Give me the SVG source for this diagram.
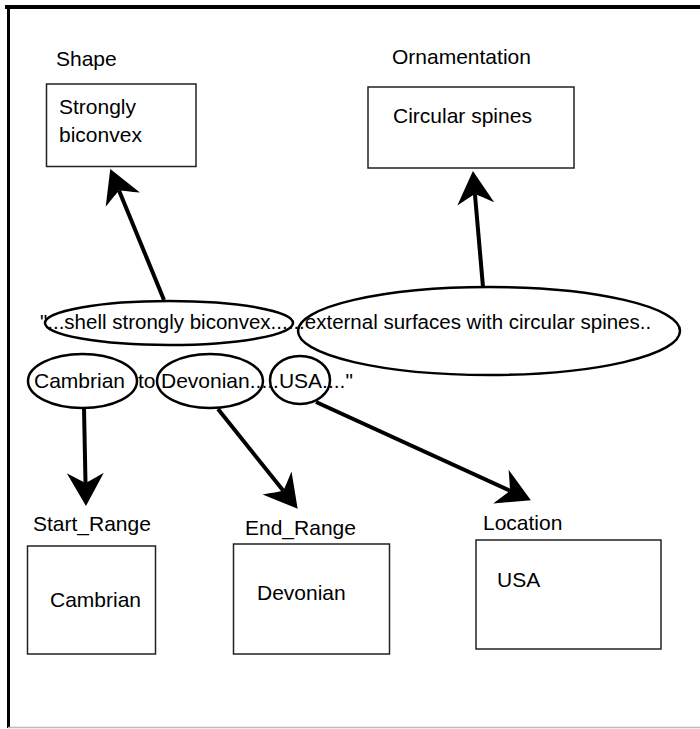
<svg xmlns="http://www.w3.org/2000/svg" width="700" height="729" viewBox="0 0 700 729">
  <style>
    text { font-family: "Liberation Sans", Arial, Helvetica, sans-serif; font-size: 21px; fill: #000; }
    .quote { font-size: 20.5px; }
    .box { fill: #fff; stroke: #222; stroke-width: 1.5; }
    .oval { fill: none; stroke: #000; stroke-width: 2.5; }
    .conn { fill: none; stroke: #000; stroke-width: 4; marker-end: url(#head); }
  </style>
  <defs>
    <!-- notched arrowhead; reference point sits at the notch -->
    <marker id="head" markerUnits="userSpaceOnUse" markerWidth="44" markerHeight="44" viewBox="-14 -22 40 44" refX="0" refY="0" orient="auto">
      <path d="M23,0 L-10,-18.5 Q-3,-6 0,0 Q-3,6 -10,18.5 Z" fill="#000"/>
    </marker>
  </defs>

  <rect width="700" height="729" fill="#fff"/>

  <!-- frame -->
  <g id="frame">
    <line x1="5" y1="7" x2="700" y2="7" stroke="#000" stroke-width="4"/>
    <line x1="8.5" y1="5" x2="8.5" y2="728" stroke="#000" stroke-width="3"/>
    <line x1="8" y1="727.5" x2="700" y2="727.5" stroke="#bbb" stroke-width="1.5"/>
  </g>

  <!-- attribute boxes -->
  <g id="shape">
    <text x="56" y="66">Shape</text>
    <rect class="box" x="46.5" y="84" width="149.5" height="82.5"/>
    <text x="59" y="114">Strongly</text>
    <text x="59" y="142">biconvex</text>
  </g>
  <g id="ornamentation">
    <text x="392" y="64">Ornamentation</text>
    <rect class="box" x="368" y="87" width="206" height="81"/>
    <text x="393" y="123">Circular spines</text>
  </g>
  <g id="start-range">
    <text x="33" y="531">Start_Range</text>
    <rect class="box" x="27.5" y="546" width="128" height="108"/>
    <text x="50" y="607">Cambrian</text>
  </g>
  <g id="end-range">
    <text x="245" y="535">End_Range</text>
    <rect class="box" x="233.5" y="544" width="156" height="110"/>
    <text x="257" y="600">Devonian</text>
  </g>
  <g id="location">
    <text x="483" y="530">Location</text>
    <rect class="box" x="476" y="540" width="185" height="109"/>
    <text x="497" y="587">USA</text>
  </g>

  <!-- source sentence with highlighted phrases -->
  <g id="sentence">
    <text class="quote" x="40" y="329">"...shell strongly biconvex......external surfaces with circular spines..</text>
    <text x="34" y="388">Cambrian</text>
    <text x="138" y="388">to</text>
    <text x="161" y="388">Devonian.....USA...."</text>
  </g>
  <g id="phrase-shell"><ellipse class="oval" cx="169" cy="323" rx="124" ry="22"/></g>
  <g id="phrase-spines"><ellipse class="oval" cx="489" cy="331" rx="191" ry="44"/></g>
  <g id="phrase-cambrian"><ellipse class="oval" cx="82.5" cy="381" rx="54.5" ry="27"/></g>
  <g id="phrase-devonian"><ellipse class="oval" cx="210" cy="381" rx="53" ry="27"/></g>
  <g id="phrase-usa"><ellipse class="oval" cx="300" cy="380" rx="30" ry="24"/></g>

  <!-- connectors -->
  <g id="connectors">
    <line class="conn" x1="164" y1="300" x2="119" y2="190.4"/>
    <line class="conn" x1="483" y1="287" x2="474.9" y2="193.9"/>
    <line class="conn" x1="84" y1="408" x2="85.5" y2="483"/>
    <line class="conn" x1="218" y1="409" x2="283.3" y2="490.8"/>
    <line class="conn" x1="316" y1="402" x2="510" y2="490.8"/>
  </g>
</svg>
